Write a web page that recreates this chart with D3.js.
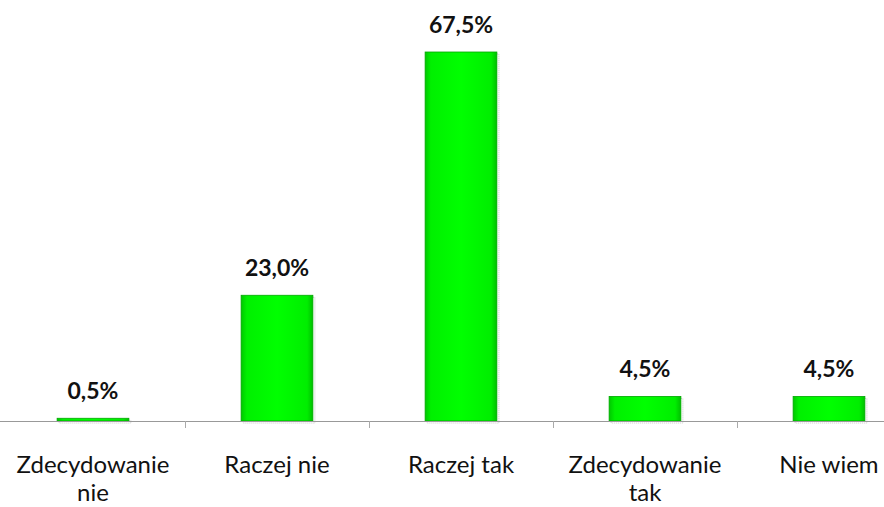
<!DOCTYPE html>
<html>
<head>
<meta charset="utf-8">
<script src="https://cdn.jsdelivr.net/npm/d3@7"></script>
<style>
  body { margin: 0; background: #fff; }
  svg { display: block; }
</style>
</head>
<body>
<svg id="chart"></svg>
<script>
// dane
var categories = ["Zdecydowanie\nnie", "Raczej nie", "Raczej tak", "Zdecydowanie\ntak", "Nie wiem"];
var values = [0.5, 23.0, 67.5, 4.5, 4.5];
var valueLabels = ["0,5%", "23,0%", "67,5%", "4,5%", "4,5%"];

var width = 884;
var height = 507;
var baseY = 421;

var svg = d3.select("#chart")
    .attr("width", width)
    .attr("height", height);

// X Scale (the picture is cut on the right, so the last band runs off the edge)
var x_scale = d3.scaleBand()
    .domain(categories)
    .range([1, 921])
    .paddingInner(0.61)
    .paddingOuter(0.305);

// Y Scale
var y_scale = d3.scaleLinear()
    .domain([0, 67.5])
    .range([baseY, 52]);

var defs = svg.append("defs");
var grad = defs.append("linearGradient")
    .attr("id", "barGrad")
    .attr("x1", "0%").attr("x2", "100%")
    .attr("y1", "0%").attr("y2", "0%");
grad.append("stop").attr("offset", "0%").attr("stop-color", "#00c800");
grad.append("stop").attr("offset", "8%").attr("stop-color", "#00f000");
grad.append("stop").attr("offset", "50%").attr("stop-color", "#00ff00");
grad.append("stop").attr("offset", "92%").attr("stop-color", "#00ee00");
grad.append("stop").attr("offset", "100%").attr("stop-color", "#00c000");

var data = categories.map(function (c, i) {
    return { cat: c, value: values[i], label: valueLabels[i] };
});

// sombra
svg.selectAll("rect.shadow")
    .data(data)
    .enter().append("rect")
    .attr("class", "shadow")
    .attr("x", function (d) { return x_scale(d.cat) + 2; })
    .attr("y", function (d) { return y_scale(d.value) + 2; })
    .attr("width", x_scale.bandwidth())
    .attr("height", function (d) { return baseY - y_scale(d.value); })
    .attr("fill", "none")
    .attr("stroke", "#c8c8c8")
    .attr("stroke-width", 1)
    .attr("stroke-dasharray", "1,1");

// barras
svg.selectAll("rect.bar")
    .data(data)
    .enter().append("rect")
    .attr("class", "bar")
    .attr("x", function (d) { return x_scale(d.cat); })
    .attr("y", function (d) { return y_scale(d.value); })
    .attr("width", x_scale.bandwidth())
    .attr("height", function (d) { return baseY - y_scale(d.value); })
    .attr("fill", "url(#barGrad)")
    .attr("stroke", "#00a800")
    .attr("stroke-width", 0.8);

// X Axis
var x_axis = d3.axisBottom(x_scale).tickSize(0).tickFormat("");
var axisG = svg.append("g")
    .attr("transform", "translate(0," + baseY + ")")
    .call(x_axis);
axisG.select(".domain").attr("stroke", "#999").attr("d", "M0,0.5H" + width);

// tick marks between categories
var bounds = categories.slice(1).map(function (c) {
    return x_scale(c) - x_scale.step() * x_scale.paddingInner() / 2;
});
axisG.selectAll("line.sep")
    .data(bounds)
    .enter().append("line")
    .attr("class", "sep")
    .attr("x1", function (d) { return Math.round(d) + 0.5; })
    .attr("x2", function (d) { return Math.round(d) + 0.5; })
    .attr("y1", 0)
    .attr("y2", 7)
    .attr("stroke", "#aaa");

// etykiety kategorii
var catText = svg.selectAll("text.cat")
    .data(data)
    .enter().append("text")
    .attr("class", "cat")
    .attr("text-anchor", "middle")
    .attr("font-family", "Lato, 'Open Sans', sans-serif")
    .attr("font-size", "24px")
    .attr("fill", "#111")
    .attr("x", function (d) { return x_scale(d.cat) + x_scale.bandwidth() / 2; })
    .attr("y", 473);
catText.each(function (d) {
    var lines = d.cat.split("\n");
    var t = d3.select(this);
    lines.forEach(function (l, i) {
        t.append("tspan")
            .attr("x", x_scale(d.cat) + x_scale.bandwidth() / 2)
            .attr("dy", i === 0 ? 0 : 28)
            .text(l);
    });
});

// etykiety wartości
svg.selectAll("text.val")
    .data(data)
    .enter().append("text")
    .attr("class", "val")
    .attr("text-anchor", "middle")
    .attr("font-family", "Lato, 'Open Sans', sans-serif")
    .attr("font-weight", "bold")
    .attr("font-size", "23px")
    .attr("fill", "#111")
    .attr("x", function (d) { return x_scale(d.cat) + x_scale.bandwidth() / 2; })
    .attr("y", function (d) { return y_scale(d.value) - 19; })
    .text(function (d) { return d.label; });
</script>
</body>
</html>
